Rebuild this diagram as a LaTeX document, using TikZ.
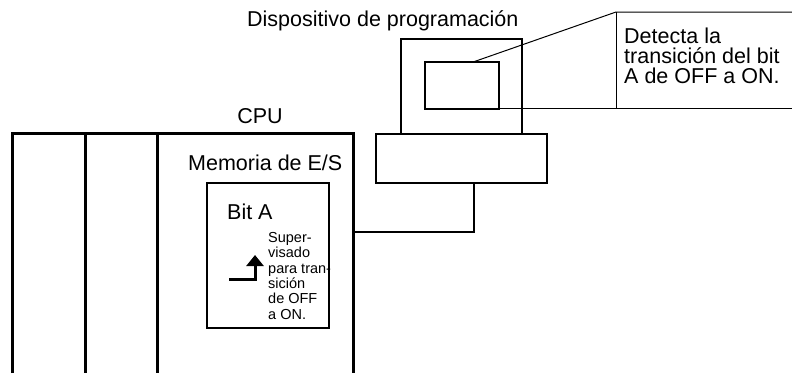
\documentclass[tikz,border=0pt]{standalone}
\usepackage{fontspec}
\setmainfont{Liberation Sans}
\usetikzlibrary{arrows.meta,calc}
\begin{document}
\begin{tikzpicture}[x=1pt,y=-1pt,
  thickline/.style={line width=3pt},
  devbox/.style={draw, line width=2.7pt, inner sep=0pt, outer sep=0pt},
  thinline/.style={line width=1pt},
  bigtext/.style={font=\fontsize{21.5}{20}\selectfont, inner sep=0pt, anchor=base west},
  smalltext/.style={font=\fontsize{14.5}{15.4}\selectfont, align=left, inner sep=0pt, anchor=north west},
]
\useasboundingbox (0,0) rectangle (792,373);

% CPU unit
\draw[thickline] (12,373) -- (12,133) -- (353,133) -- (353,373);
\draw[thickline] (85,133) -- (85,373);
\draw[thickline] (157,133) -- (157,373);
\node[bigtext, anchor=base] (cpu) at (260,123) {CPU};
\node[bigtext] (mem) at (188,170) {Memoria de E/S};

% Bit A box
\node[devbox, minimum width=122pt, minimum height=145pt] (bitbox) at (268,255.5) {};
\node[bigtext] (bit) at (227,219) {Bit A};
\node[smalltext] (sup) at (268,232) {Super-\\visado\\para tran-\\sición\\de OFF\\a ON.};
\coordinate (a0) at (229,279);
\coordinate (a1) at (255,255);
\draw[line width=3pt, -{Triangle[width=17pt,length=11pt]}] (a0) -| (a1);

% Programming device
\node[bigtext] (devlabel) at (247,26) {Dispositivo de programación};
\node[devbox, minimum width=121pt, minimum height=95pt] (monitor) at (461.5,86.5) {};
\node[devbox, minimum width=74pt, minimum height=47pt] (screen) at (462,85.5) {};
\node[devbox, minimum width=171pt, minimum height=49pt] (base) at (461.5,158.5) {};

% Cable
\coordinate (cx) at (474,0);
\coordinate (cpuport) at (353,232);
\draw[line width=2.4pt] (cx |- base.south) |- (cpuport);

% Callout
\coordinate (ct) at (616,12);
\coordinate (cb) at (616,108);
\coordinate (rt) at (792,12);
\coordinate (rb) at (792,108);
\draw[thinline] ($(screen.north west)!0.65!(screen.north east)$) -- (ct) -- (rt);
\draw[thinline] (ct) -- (cb);
\draw[thinline] (screen.south east |- rb) -- (rb);
\node[bigtext, anchor=north west, align=left] (callout) at (624,27.5) {Detecta la\\transición del bit\\A de OFF a ON.};
\end{tikzpicture}
\end{document}
